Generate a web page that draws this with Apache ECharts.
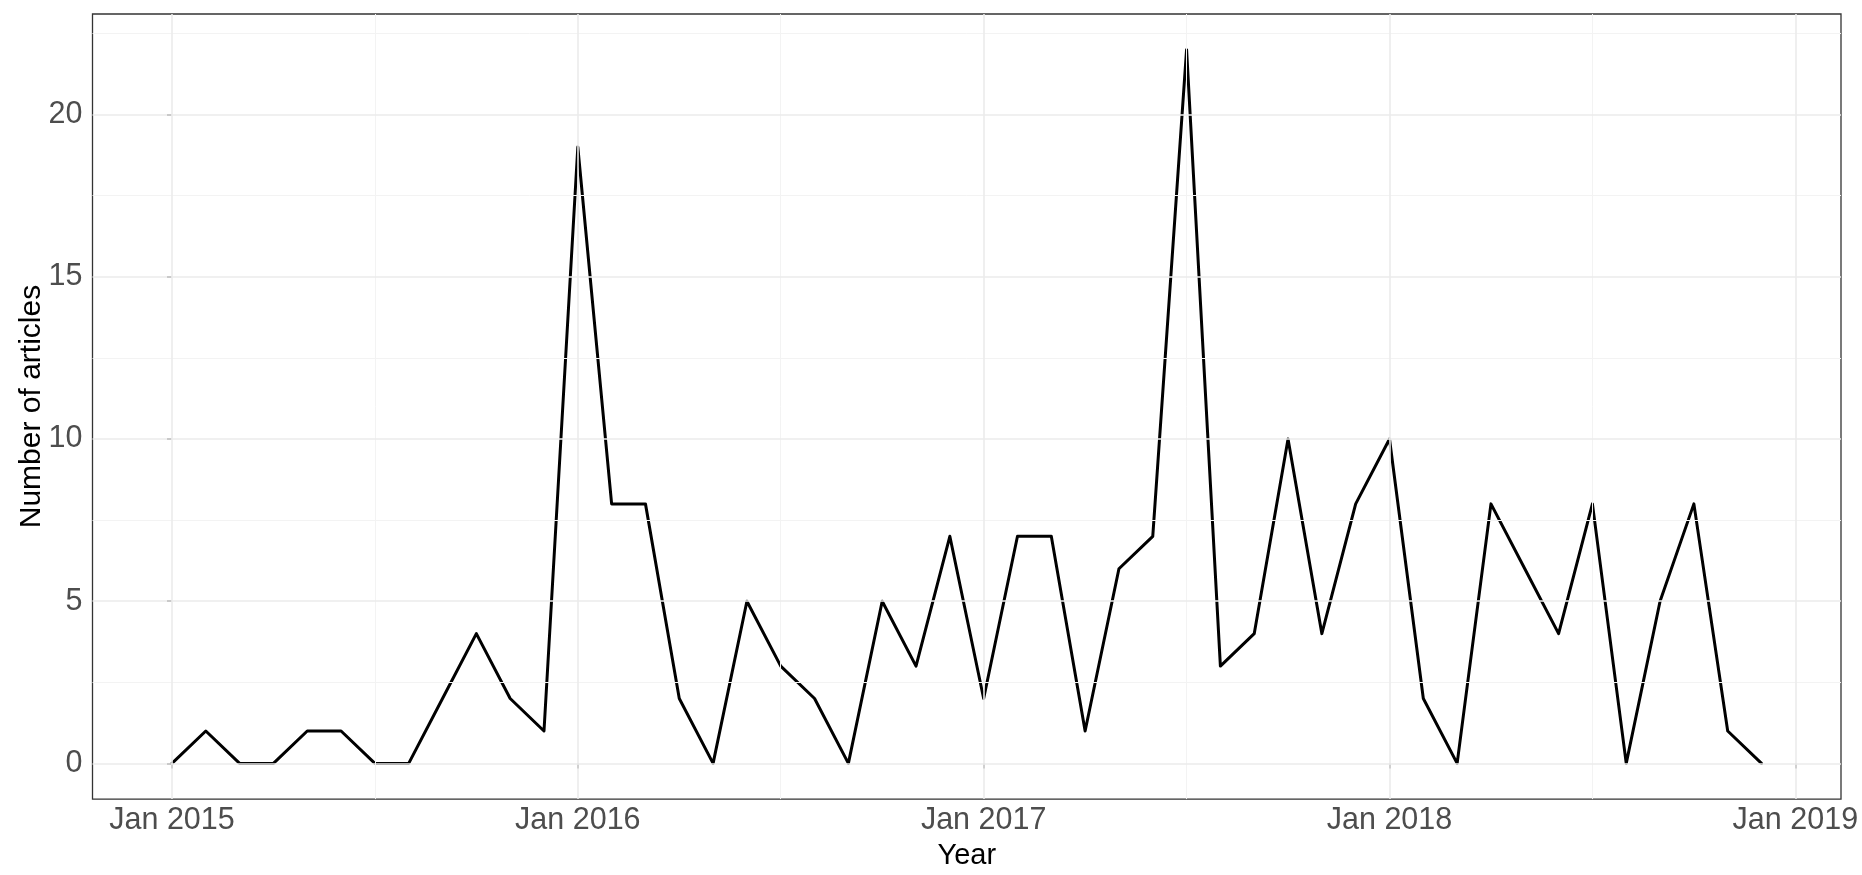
<!DOCTYPE html>
<html>
<head>
<meta charset="utf-8">
<script src="https://cdn.jsdelivr.net/npm/echarts@6/dist/echarts.min.js"></script>
<style>
html,body{margin:0;padding:0;background:#fff;}
#chart{width:1862px;height:875px;}
</style>
</head>
<body>
<div id="chart"></div>
<script>
// Monthly article counts, Jan 2015 .. Dec 2018
const startYear = 2015;
const counts = [
  0, 1, 0, 0, 1, 1, 0, 0, 2, 4, 2, 1,      // 2015
  19, 8, 8, 2, 0, 5, 3, 2, 0, 5, 3, 7,     // 2016
  2, 7, 7, 1, 6, 7, 22, 3, 4, 10, 4, 8,    // 2017
  10, 2, 0, 8, 6, 4, 8, 0, 5, 8, 1, 0      // 2018
];
// tick positions (month index from Jan 2015)
const xMajorTicks = [0, 12, 24, 36, 48];
const xMinorTicks = [6, 18, 30, 42];
const yMajorTicks = [0, 5, 10, 15, 20];
const yMinorTicks = [2.5, 7.5, 12.5, 17.5, 22.5];
const xTitle = 'Year';
const yTitle = 'Number of articles';

const points = counts.map((v, i) => [i, v]);
const n = counts.length;
const xPad = (n - 1) * 0.05;
const yMax = Math.max(...counts);
const yPad = yMax * 0.05;

const font = "'Liberation Sans', Arial, sans-serif";
const gridMajor = '#EBEBEB';
const gridMinor = '#F3F3F3';

function lines(arr, key, color, width) {
  return arr.map(v => ({ [key]: v, lineStyle: { color: color, width: width, type: 'solid' } }));
}

const chart = echarts.init(document.getElementById('chart'), null, { renderer: 'canvas' });
chart.setOption({
  animation: false,
  backgroundColor: '#ffffff',
  grid: {
    left: 92.5, right: 21, top: 14, bottom: 73,
    show: true, borderColor: '#333333', borderWidth: 1.3, backgroundColor: 'transparent', z: 5
  },
  xAxis: {
    type: 'value',
    min: -xPad, max: (n - 1) + xPad,
    name: xTitle, nameLocation: 'middle', nameGap: 35,
    nameTextStyle: { fontFamily: font, fontSize: 29, color: '#000000' },
    axisLine: { show: false },
    axisTick: { show: true, customValues: xMajorTicks, length: 5, lineStyle: { color: '#333333', width: 1.5 } },
    axisLabel: {
      customValues: xMajorTicks, margin: 6,
      fontFamily: font, fontSize: 30.5, color: '#4D4D4D',
      formatter: v => 'Jan ' + (startYear + Math.round(v / 12))
    },
    splitLine: { show: false }
  },
  yAxis: {
    type: 'value',
    min: -yPad, max: yMax + yPad,
    name: yTitle, nameLocation: 'middle', nameGap: 46, nameRotate: 90,
    nameMoveOverlap: false,
    nameTextStyle: { fontFamily: font, fontSize: 30, color: '#000000' },
    axisLine: { show: false },
    axisTick: { show: true, customValues: yMajorTicks, length: 5, lineStyle: { color: '#333333', width: 1.5 } },
    axisLabel: {
      customValues: yMajorTicks, margin: 10,
      fontFamily: font, fontSize: 30.5, color: '#4D4D4D'
    },
    splitLine: { show: false }
  },
  series: [
    {
      type: 'line', z: 1, silent: true, data: points, showSymbol: false,
      lineStyle: { opacity: 0 },
      markLine: {
        silent: true, symbol: ['none', 'none'], label: { show: false },
        animation: false,
        data: [].concat(
          lines(xMinorTicks, 'xAxis', gridMinor, 1),
          lines(yMinorTicks, 'yAxis', gridMinor, 1),
          lines(xMajorTicks, 'xAxis', gridMajor, 1.6),
          lines(yMajorTicks, 'yAxis', gridMajor, 1.6)
        )
      }
    },
    {
      type: 'line', z: 3, data: points, showSymbol: false,
      lineStyle: { color: '#000000', width: 3, join: 'round', cap: 'round' }
    }
  ]
});
</script>
</body>
</html>
